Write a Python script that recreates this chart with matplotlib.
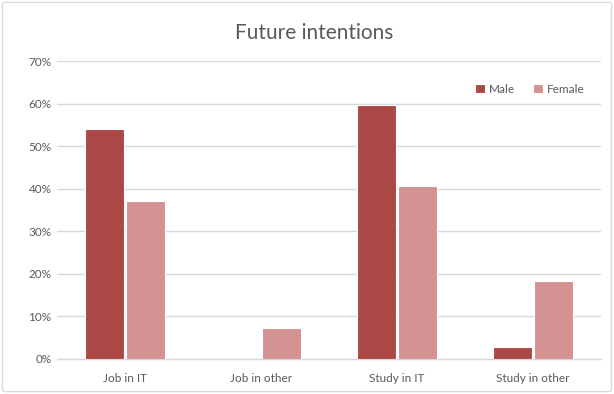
import matplotlib
matplotlib.use("Agg")
import matplotlib.pyplot as plt
from matplotlib.patches import FancyBboxPatch
import numpy as np

categories = ["Job in IT", "Job in other", "Study in IT", "Study in other"]
male = [54.0, 0.0, 59.6, 2.8]
female = [37.0, 7.3, 40.7, 18.4]
series_names = ["Male", "Female"]
y_ticks = [0, 10, 20, 30, 40, 50, 60, 70]

male_color = "#AB4845"
female_color = "#D49292"
text_color = "#595959"
grid_color = "#D9D9D9"

plt.rcParams['font.family'] = ['Lato', 'DejaVu Sans']

fig = plt.figure(figsize=(6.14, 3.94), dpi=100)
fig.patch.set_facecolor("white")

# outer chart border
border = FancyBboxPatch((0.004, 0.006), 0.992, 0.988, boxstyle="round,pad=0,rounding_size=0.005",
                       transform=fig.transFigure, facecolor="none", edgecolor=grid_color,
                       linewidth=1.0, zorder=10)
fig.patches.append(border)

ax = fig.add_axes([0.093, 0.089, 0.886, 0.756])
ax.set_facecolor("none")

x = np.arange(len(categories))
w = 0.285
gap = 0.01
ax.bar(x - w / 2 - gap, male, width=w, color=male_color, edgecolor="white", linewidth=0.8,
       label=series_names[0], zorder=3)
ax.bar(x + w / 2 + gap, female, width=w, color=female_color, edgecolor="white", linewidth=0.8,
       label=series_names[1], zorder=3)

ax.set_xlim(-0.5, len(categories) - 0.5)
ax.set_ylim(0, 70)
ax.set_yticks(y_ticks)
ax.set_yticklabels([f"{t}%" for t in y_ticks])
ax.set_xticks(x)
ax.set_xticklabels(categories)
ax.yaxis.grid(True, color=grid_color, linewidth=1.0, zorder=0)
ax.set_axisbelow(True)
for s in ["top", "right", "left"]:
    ax.spines[s].set_visible(False)
ax.spines["bottom"].set_color(grid_color)
ax.spines["bottom"].set_linewidth(1.0)
ax.tick_params(axis="both", length=0, labelsize=8.5, colors=text_color)
ax.tick_params(axis="x", pad=10)
ax.tick_params(axis="y", pad=4)

fig.text(0.512, 0.915, "Future intentions", ha="center", va="center", fontsize=15, color=text_color)

leg = ax.legend(loc="upper right", bbox_to_anchor=(0.99, 0.96), ncol=2, frameon=False,
                fontsize=8.5, handlelength=0.8, handleheight=0.8, handletextpad=0.4,
                columnspacing=1.5, labelcolor=text_color)

fig.savefig("out.png", dpi=100, facecolor="white")
